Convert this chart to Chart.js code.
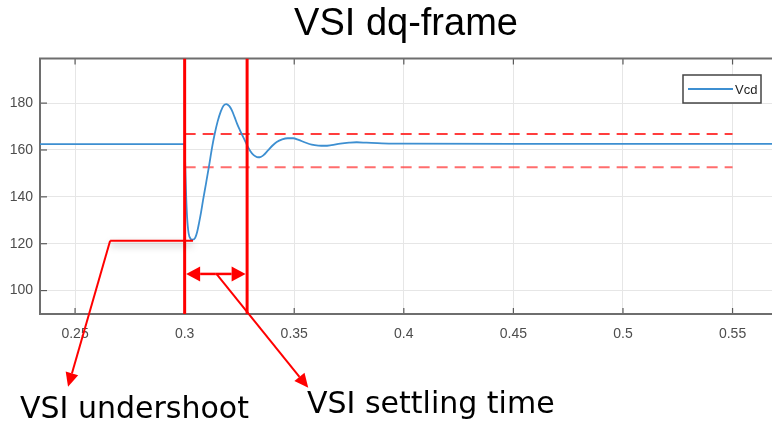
<!DOCTYPE html>
<html>
<head>
<meta charset="utf-8">
<script src="https://cdn.jsdelivr.net/npm/chart.js@4/dist/chart.umd.min.js"></script>
<style>
  html, body { margin: 0; padding: 0; background: #fff; }
  #wrap { width: 772px; height: 423px; }
</style>
</head>
<body>
<div id="wrap"><canvas id="vsiChart" width="772" height="423"></canvas></div>
<script>
// Vcd response (time in s, voltage)
const timeValues = [0.234, 0.3, 0.3003, 0.3007, 0.3011, 0.3018, 0.3028, 0.3037, 0.3048, 0.3057,
    0.3066, 0.3075, 0.3084, 0.3098, 0.3111, 0.3125, 0.3137, 0.315, 0.3165, 0.3178,
    0.319, 0.3203, 0.3215, 0.3228, 0.324, 0.3252, 0.3262, 0.3275, 0.3285, 0.33,
    0.3315, 0.333, 0.3343, 0.336, 0.338, 0.34, 0.342, 0.3445, 0.347, 0.3495,
    0.352, 0.355, 0.358, 0.361, 0.364, 0.367, 0.371, 0.375, 0.3785, 0.383,
    0.39, 0.4, 0.45, 0.568];
const vcdValues = [162.5, 162.5, 152, 140, 131.6, 124.5, 122, 121.7, 122.5, 125,
    129, 133.5, 138.6, 146, 153, 161, 166.8, 172, 176.5, 179,
    179.6, 178.8, 177, 174, 171, 168.5, 166.5, 164, 162, 159.5,
    157.8, 157, 156.9, 157.8, 159.8, 161.8, 163.4, 164.5, 165, 165,
    164.3, 163.2, 162.3, 161.9, 161.8, 162.1, 162.7, 163.1, 163.3, 163.1,
    162.8, 162.7, 162.6, 162.6];

// tolerance band and markers
const bandTimes = [0.3, 0.55];
const bandUpper = 166.8;
const bandLower = 152.6;
const markerTimes = [0.3, 0.3285];

// axes
const xRange = [0.234, 0.568];
const yRange = [90, 199];
const xTicks = [0.25, 0.3, 0.35, 0.4, 0.45, 0.5, 0.55];
const yTicks = [100, 120, 140, 160, 180];

// annotation anchors (data units)
const undershootPath = [[0.3038, 121.3], [0.266, 121.3], [0.2468, 58.9]];
const settlingArrowY = 107.1;
const settlingPointer = [[0.3145, 107.1], [0.3564, 58.5]];
const undershootLabel = 'VSI undershoot';
const settlingLabel = 'VSI settling time';

const blue = '#3d8fd1';
const red = '#ff0000';

function xy(xs, ys) {
    return xs.map((x, i) => ({ x: x, y: ys[i] }));
}

function drawArrow(ctx, x0, y0, x1, y1, len, half) {
    const a = Math.atan2(y1 - y0, x1 - x0);
    const bx = x1 - Math.cos(a) * len;
    const by = y1 - Math.sin(a) * len;
    ctx.beginPath();
    ctx.moveTo(x0, y0);
    ctx.lineTo(bx, by);
    ctx.stroke();
    ctx.beginPath();
    ctx.moveTo(x1, y1);
    ctx.lineTo(bx + Math.sin(a) * half, by - Math.cos(a) * half);
    ctx.lineTo(bx - Math.sin(a) * half, by + Math.cos(a) * half);
    ctx.closePath();
    ctx.fill();
}

// frame + inner ticks, then legend and annotations on top
const framePlugin = {
    id: 'frame',
    beforeDatasetsDraw(chart) {
        const { ctx, chartArea: a, scales } = chart;
        ctx.save();
        ctx.strokeStyle = '#5a5a5a';
        ctx.lineWidth = 1.2;
        scales.x.ticks.forEach(t => {
            const px = scales.x.getPixelForValue(t.value);
            ctx.beginPath();
            ctx.moveTo(px, a.top); ctx.lineTo(px, a.top + 6);
            ctx.moveTo(px, a.bottom); ctx.lineTo(px, a.bottom - 6);
            ctx.stroke();
        });
        scales.y.ticks.forEach(t => {
            const py = scales.y.getPixelForValue(t.value);
            ctx.beginPath();
            ctx.moveTo(a.left, py); ctx.lineTo(a.left + 7, py);
            ctx.stroke();
        });
        ctx.strokeStyle = '#6e6e6e';
        ctx.lineWidth = 2;
        ctx.beginPath();
        ctx.moveTo(a.right + 2, a.top);
        ctx.lineTo(a.left, a.top);
        ctx.lineTo(a.left, a.bottom);
        ctx.lineTo(a.right + 2, a.bottom);
        ctx.stroke();
        ctx.restore();
    },
    afterDraw(chart) {
        const { ctx, scales } = chart;
        const X = v => scales.x.getPixelForValue(v);
        const Y = v => scales.y.getPixelForValue(v);
        ctx.save();

        // legend box
        const label = chart.data.datasets[0].label;
        ctx.fillStyle = '#fff';
        ctx.strokeStyle = '#444';
        ctx.lineWidth = 1.5;
        ctx.fillRect(683, 75, 78, 28);
        ctx.strokeRect(683, 75, 78, 28);
        ctx.strokeStyle = blue;
        ctx.lineWidth = 2;
        ctx.beginPath();
        ctx.moveTo(688, 89); ctx.lineTo(733, 89);
        ctx.stroke();
        ctx.fillStyle = '#222';
        ctx.font = '13px "Liberation Sans", Arial, sans-serif';
        ctx.textBaseline = 'middle';
        ctx.fillText(label, 735, 90);

        // undershoot pointer
        ctx.strokeStyle = red;
        ctx.fillStyle = red;
        ctx.lineWidth = 2;
        const p = undershootPath.map(q => [X(q[0]), Y(q[1])]);
        ctx.save();
        ctx.shadowColor = 'rgba(0,0,0,0.35)';
        ctx.shadowBlur = 7;
        ctx.shadowOffsetY = 4;
        ctx.beginPath();
        ctx.moveTo(p[0][0], p[0][1]);
        ctx.lineTo(p[1][0], p[1][1]);
        ctx.stroke();
        ctx.restore();
        drawArrow(ctx, p[1][0], p[1][1], p[2][0], p[2][1], 14, 6.5);

        // settling time double arrow
        const sy = Y(settlingArrowY);
        const sx0 = X(markerTimes[0]) + 1.5;
        const sx1 = X(markerTimes[1]) - 1.5;
        ctx.lineWidth = 2.5;
        const mid = (sx0 + sx1) / 2;
        drawArrow(ctx, mid, sy, sx0, sy, 14, 7.5);
        drawArrow(ctx, mid, sy, sx1, sy, 14, 7.5);
        ctx.lineWidth = 2;
        drawArrow(ctx, X(settlingPointer[0][0]), Y(settlingPointer[0][1]),
            X(settlingPointer[1][0]), Y(settlingPointer[1][1]), 14, 6.5);

        // annotation texts
        ctx.fillStyle = '#000';
        ctx.font = '30px "DejaVu Sans", Verdana, sans-serif';
        ctx.textBaseline = 'alphabetic';
        ctx.fillText(undershootLabel, 20, 418);
        ctx.fillText(settlingLabel, 307, 413);
        ctx.restore();
    }
};

new Chart(document.getElementById('vsiChart'), {
    type: 'line',
    data: {
        datasets: [
            {
                label: 'Vcd',
                data: xy(timeValues, vcdValues),
                borderColor: blue,
                borderWidth: 1.8,
                pointRadius: 0,
                cubicInterpolationMode: 'monotone',
                order: 1
            },
            {
                label: 'upper band',
                data: xy(bandTimes, [bandUpper, bandUpper]),
                borderColor: 'rgba(255,40,40,0.9)',
                borderWidth: 2,
                borderDash: [11, 7],
                pointRadius: 0,
                order: 2
            },
            {
                label: 'lower band',
                data: xy(bandTimes, [bandLower, bandLower]),
                borderColor: 'rgba(255,60,60,0.75)',
                borderWidth: 2,
                borderDash: [11, 7],
                pointRadius: 0,
                order: 2
            },
            {
                label: 'start',
                data: xy([markerTimes[0], markerTimes[0]], yRange),
                borderColor: red,
                borderWidth: 3,
                pointRadius: 0,
                order: 0
            },
            {
                label: 'settled',
                data: xy([markerTimes[1], markerTimes[1]], yRange),
                borderColor: red,
                borderWidth: 3,
                pointRadius: 0,
                order: 0
            }
        ]
    },
    options: {
        responsive: false,
        animation: false,
        devicePixelRatio: 1,
        layout: { padding: { left: 0, right: 0, top: 0, bottom: 0 } },
        plugins: {
            legend: { display: false },
            tooltip: { enabled: false },
            title: {
                display: true,
                fullSize: false,
                text: 'VSI dq-frame',
                color: '#000',
                font: { family: '"Liberation Sans", Arial, sans-serif', size: 38, weight: 'normal' },
                padding: { top: 2, bottom: 11 }
            }
        },
        scales: {
            x: {
                type: 'linear',
                min: xRange[0],
                max: xRange[1],
                afterBuildTicks: s => { s.ticks = xTicks.map(v => ({ value: v })); },
                afterFit: s => { s.height = 109; },
                grid: { color: '#e6e6e6', drawTicks: false },
                border: { display: false },
                ticks: {
                    padding: 12,
                    color: '#4d4d4d',
                    font: { family: '"Liberation Sans", Arial, sans-serif', size: 14 },
                    callback: v => String(+v.toFixed(2))
                }
            },
            y: {
                min: yRange[0],
                max: yRange[1],
                afterBuildTicks: s => { s.ticks = yTicks.map(v => ({ value: v })); },
                afterFit: s => { s.width = 40; },
                grid: { color: '#e6e6e6', drawTicks: false },
                border: { display: false },
                ticks: {
                    padding: 7,
                    color: '#4d4d4d',
                    font: { family: '"Liberation Sans", Arial, sans-serif', size: 14 }
                }
            }
        }
    },
    plugins: [framePlugin]
});
</script>
</body>
</html>
